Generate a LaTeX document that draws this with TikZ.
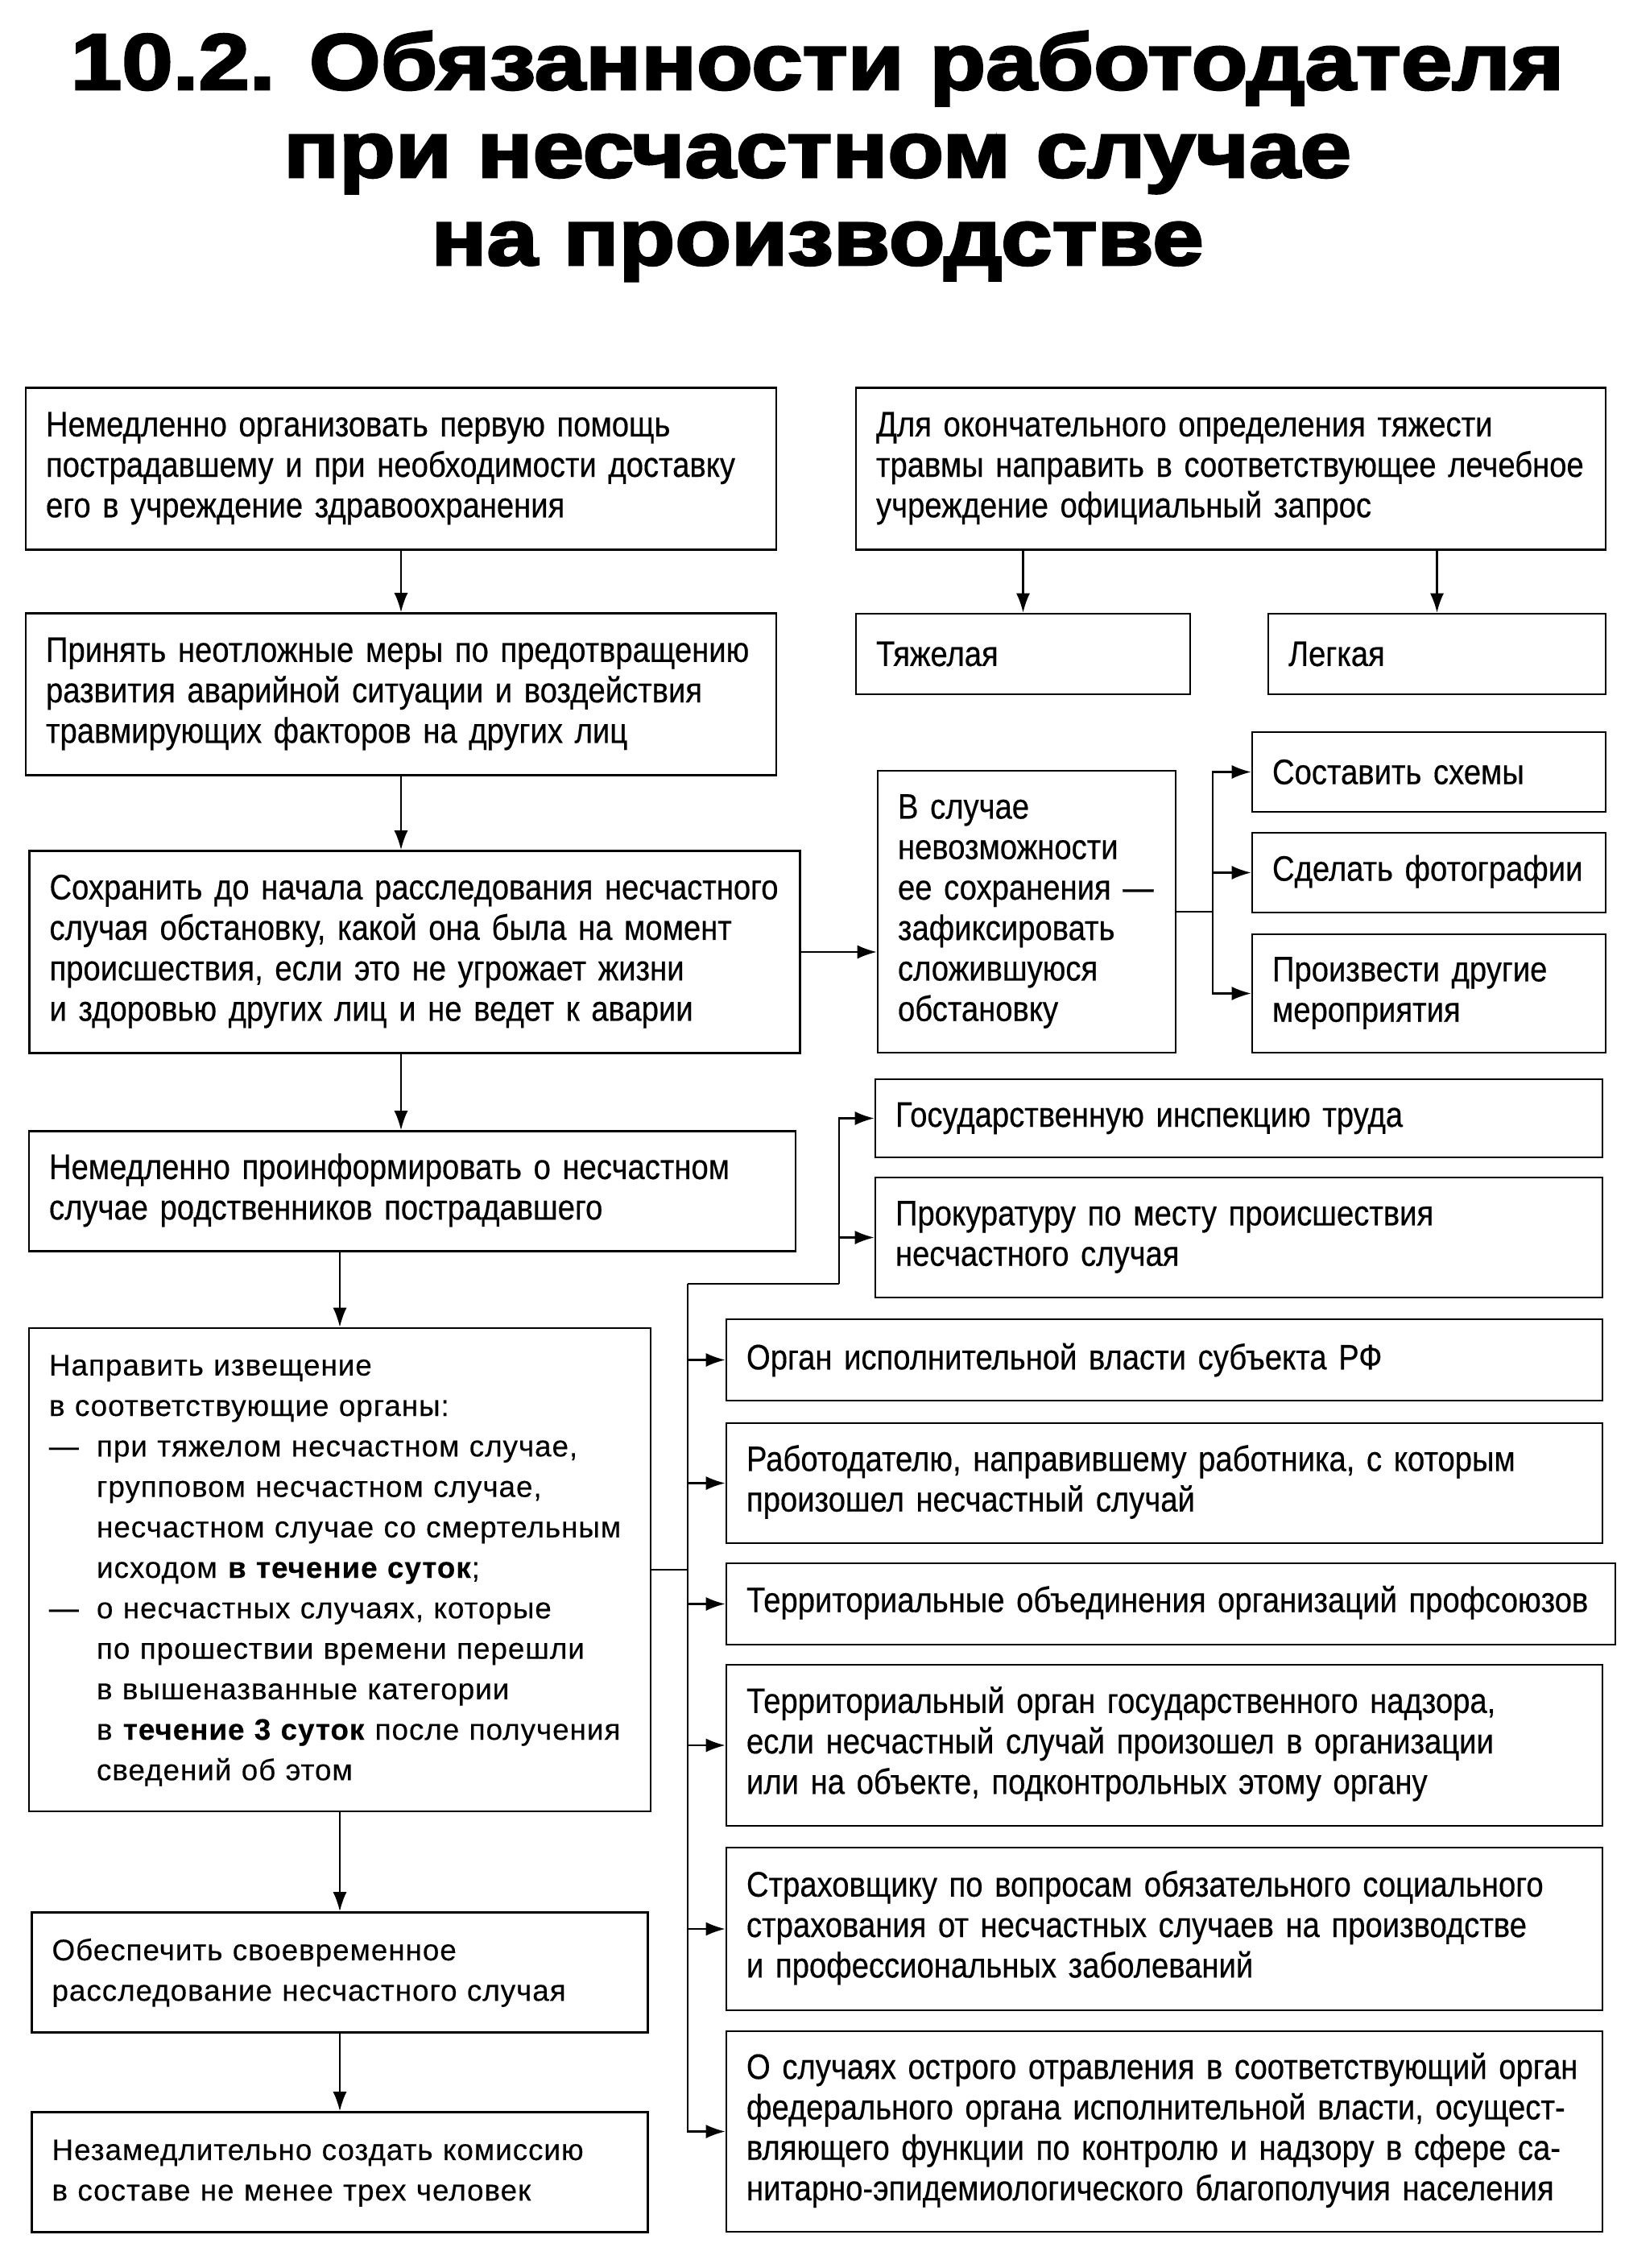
\documentclass[tikz,border=0pt]{standalone}
\usepackage{fontspec}
\setmainfont{Liberation Sans}
\newfontfamily\condfont[FakeStretch=0.87, FakeBold=0.4]{Liberation Sans}
\newfontfamily\widefont[LetterSpace=2.5, FakeBold=0.3]{Liberation Sans}
\newfontfamily\titlefont[FakeBold=3, FakeStretch=1.16]{Liberation Sans Bold}
\usepackage{tikz}
\usetikzlibrary{arrows.meta,positioning,calc}
\newcommand{\lns}[1]{\begin{tabular}{@{}l@{}}#1\end{tabular}}

\begin{document}
\begin{tikzpicture}[
  x=1mm, y=-1mm,
  box/.style={draw, line width=0.75pt, text width=#1, align=left, inner xsep=2.5mm, inner ysep=0pt,
    font=\condfont\fontsize{12.5}{14.3}\selectfont},
  wide/.style={font=\widefont\fontsize{10.5}{14.3}\selectfont},
  arr/.style={-{Latex[length=2.4mm, width=1.7mm]}, line width=0.6pt},
  ln/.style={line width=0.6pt}
]
\useasboundingbox (0,0) rectangle (201.7,281.6);
% title
\node[font=\titlefont\fontsize{28}{31}\selectfont, align=center] (title) at (101.5,19.4)
  {10.2. Обязанности работодателя\\при несчастном случае\\на производстве};
% left column
\node[box=88.2mm, minimum height=20.1mm] (aid) at (49.8,58.2) {\lns{Немедленно организовать первую помощь\\пострадавшему и при необходимости доставку\\его в учреждение здравоохранения}};
\node[box=88.2mm, minimum height=20.1mm] (prev) at (49.8,86.2) {\lns{Принять неотложные меры по предотвращению\\развития аварийной ситуации и воздействия\\травмирующих факторов на других лиц}};
\node[box=90.7mm, minimum height=25.1mm] (keep) at (51.5,118.2) {\lns{Сохранить до начала расследования несчастного\\случая обстановку, какой она была на момент\\происшествия, если это не угрожает жизни\\и здоровью других лиц и не ведет к аварии}};
\node[box=90.2mm, minimum height=14.9mm] (kin) at (51.2,147.9) {\lns{Немедленно проинформировать о несчастном\\случае родственников пострадавшего}};
\node[box=72.2mm, wide, minimum height=60mm] (notice) at (42.2,194.9) {\lns{Направить извещение\\в соответствующие органы:\\\makebox[5.9mm][l]{—}при тяжелом несчастном случае,\\\hspace*{5.9mm}групповом несчастном случае,\\\hspace*{5.9mm}несчастном случае со смертельным\\\hspace*{5.9mm}исходом \textbf{в течение суток};\\\makebox[5.9mm][l]{—}о несчастных случаях, которые\\\hspace*{5.9mm}по прошествии времени перешли\\\hspace*{5.9mm}в вышеназванные категории\\\hspace*{5.9mm}в \textbf{течение 3 суток} после получения\\\hspace*{5.9mm}сведений об этом}};
\node[box=71.5mm, wide, minimum height=14.9mm] (probe) at (42.2,244.9) {\lns{Обеспечить своевременное\\расследование несчастного случая}};
\node[box=71.5mm, wide, minimum height=14.9mm] (board) at (42.2,269.7) {\lns{Незамедлительно создать комиссию\\в составе не менее трех человек}};
% right column
\node[box=88.1mm, minimum height=20.1mm] (query) at (152.85,58.2) {\lns{Для окончательного определения тяжести\\травмы направить в соответствующее лечебное\\учреждение официальный запрос}};
\node[box=36.5mm, minimum height=10mm] (heavy) at (127.05,81.2) {Тяжелая};
\node[box=36.9mm, minimum height=10mm] (light) at (178.45,81.2) {Легкая};
\node[box=32mm, minimum height=35mm] (fix) at (127.5,113.2) {\lns{В случае\\невозможности\\ее сохранения —\\зафиксировать\\сложившуюся\\обстановку}};
\node[box=38.9mm, minimum height=9.9mm] (plan) at (177.45,95.85) {Составить схемы};
\node[box=38.9mm, minimum height=9.9mm] (photo) at (177.45,108.35) {\lns{Сделать фотографии}};
\node[box=38.9mm, minimum height=14.7mm] (other) at (177.45,123.35) {\lns{Произвести другие\\мероприятия}};
\node[box=85.3mm, minimum height=9.7mm] (git) at (153.85,138.85) {Государственную инспекцию труда};
\node[box=85.3mm, minimum height=14.9mm] (pros) at (153.85,153.65) {\lns{Прокуратуру по месту происшествия\\несчастного случая}};
\node[box=103.8mm, minimum height=10.1mm] (exec) at (144.6,168.85) {Орган исполнительной власти субъекта РФ};
\node[box=103.8mm, minimum height=14.9mm] (empl) at (144.6,184.15) {\lns{Работодателю, направившему работника, с которым\\произошел несчастный случай}};
\node[box=105.4mm, minimum height=10.1mm] (union) at (145.4,199.15) {\lns{Территориальные объединения организаций профсоюзов}};
\node[box=103.8mm, minimum height=20mm] (super) at (144.6,216.7) {\lns{Территориальный орган государственного надзора,\\если несчастный случай произошел в организации\\или на объекте, подконтрольных этому органу}};
\node[box=103.8mm, minimum height=20.2mm] (insur) at (144.6,239.5) {\lns{Страховщику по вопросам обязательного социального\\страхования от несчастных случаев на производстве\\и профессиональных заболеваний}};
\node[box=103.8mm, minimum height=24.9mm] (poison) at (144.6,264.65) {\lns{О случаях острого отравления в соответствующий орган\\федерального органа исполнительной власти, осущест-\\вляющего функции по контролю и надзору в сфере са-\\нитарно-эпидемиологического благополучия населения}};
% main chain
\draw[arr] (aid) -- (prev);
\draw[arr] (prev.south) -- (prev.south |- keep.north);
\draw[arr] (keep.south -| prev.south) -- (prev.south |- kin.north);
\draw[arr] (kin.south -| notice.north) -- (notice.north);
\draw[arr] (notice) -- (probe);
\draw[arr] (probe) -- (board);
% severity
\draw[arr] (query.south -| heavy.north) -- (heavy.north);
\draw[arr] (query.south -| light.north) -- (light.north);
% keeping the scene
\draw[arr] (keep.east) -- (keep.east -| fix.west);
\coordinate (fixj) at ($(fix.east)+(4.5,0)$);
\draw[ln] (fix.east) -- (fixj);
\foreach \t in {plan,photo,other} { \draw[arr] (fixj) |- (\t.west); }
% notification
\coordinate (ntop) at (85.4,159.4);
\coordinate (njog) at (104.2,159.4);
\draw[ln] (notice.east) -- (notice.east -| ntop);
\draw[ln] (ntop) -- (njog);
\foreach \t in {git,pros} { \draw[arr] (njog) |- (\t.west); }
\foreach \t in {exec,empl,union,super,insur,poison} { \draw[arr] (ntop) |- (\t.west); }
\end{tikzpicture}
\end{document}
